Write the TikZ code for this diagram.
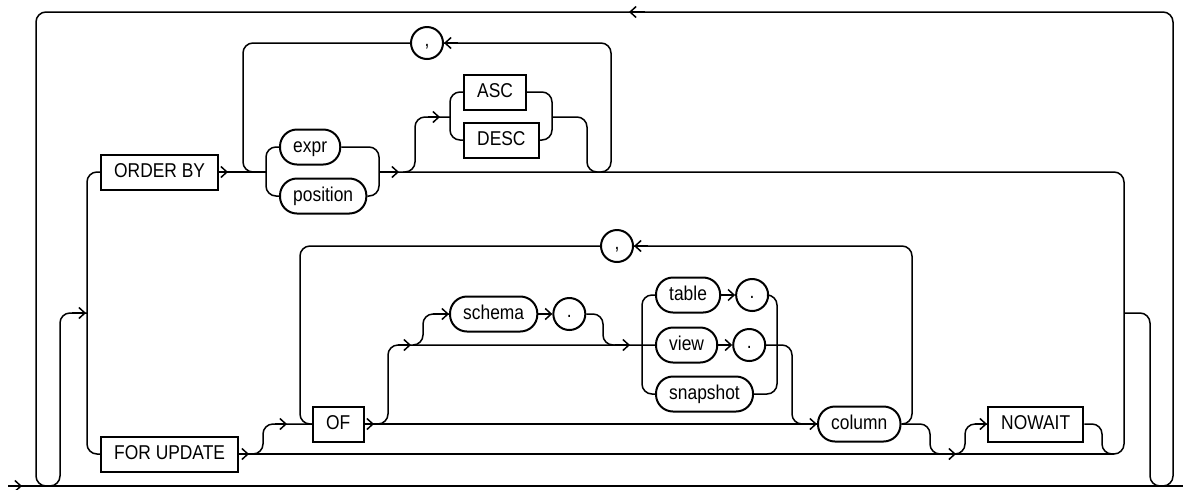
\documentclass[tikz,border=0pt]{standalone}
\usepackage{fontspec}
\usepackage{tikz}
\newfontfamily\railfont[FakeStretch=0.87]{Liberation Sans}
\usetikzlibrary{arrows.meta, positioning}
\tikzset{
	kw/.style    ={rectangle, draw=black, line width=1pt, minimum height=17.5pt, inner xsep=6.6pt, inner ysep=0pt, text height=7.5pt, text depth=2.5pt, font=\railfont\fontsize{10}{12}\selectfont},
	var/.style   ={kw, rounded corners=8.5pt},
	punct/.style ={circle, draw=black, line width=1pt, minimum size=16pt, inner sep=0pt, text height=5pt, text depth=2pt, font=\railfont\fontsize{10}{12}\selectfont},
	rail/.style  ={line width=0.75pt, rounded corners=5pt},
	railtip/.style={-{Straight Barb[length=3pt, width=5.5pt]}},
}
\begin{document}
\begin{tikzpicture}[x=0.5pt, y=-0.5pt]
	\useasboundingbox (0,0) rectangle (1183,489);
	\coordinate (in) at (8,486);
	\coordinate (out) at (1183,486);
	% keywords and variables
	\node[kw, anchor=west] (orderby) at (100,172) {ORDER BY};
	\node[kw, anchor=west] (forupdate) at (100,454) {FOR UPDATE};
	\node[var, anchor=west] (expr) at (279,147) {expr};
	\node[var, anchor=west] (position) at (279,196) {position};
	\node[kw, anchor=west] (asc) at (463,92) {ASC};
	\node[kw, anchor=west] (desc) at (463,140) {DESC};
	\node[punct] (comma1) at (427,43) {,};
	\node[kw, anchor=west] (of) at (312,424) {OF};
	\node[punct] (comma2) at (617,246) {,};
	\node[var, anchor=west] (schema) at (449,314) {schema};
	\node[punct, right=7pt of schema] (dot1) {.};
	\node[var, anchor=west] (table) at (655,295) {table};
	\node[punct, right=7pt of table] (dot2) {.};
	\node[var, anchor=west] (view) at (655,345) {view};
	\node[punct, right=7pt of view] (dot3) {.};
	\node[var, anchor=west] (snapshot) at (655,394) {snapshot};
	\node[var, anchor=west] (column) at (817,424) {column};
	\node[kw, anchor=west] (nowait) at (987,424) {NOWAIT};
	% main line and outer loop
	\draw[rail] (in) -- (out);
	\draw[rail, railtip] (in) -- ++(14,0);
	\draw[rail] (1124,313) -- (1150,313) -- (1150,486) -- (1173,486) -- (1173,12) -- (36,12) -- (36,486) -- (60,486) -- (60,313) -- (87,313);
	\draw[rail, railtip] (645,12) -- (629,12);
	\draw[rail, railtip] (72,313) -- (86,313);
	\draw[rail] (orderby.west) -- (87,172) -- (87,454) -- (forupdate.west);
	% ORDER BY
	\draw[rail] (orderby.east) -- (266,172);
	\draw[rail, railtip] (orderby.east) -- (228,172);
	\draw[rail] (expr.west) -- (266,147) -- (266,196) -- (position.west);
	\draw[rail] (expr.east) -- (379,147) -- (379,196) -- (position.east);
	\draw[rail] (379,172) -- (1124,172) -- (1124,454) -- (1102,454) -- (1102,424) -- (nowait.east);
	\draw[rail, railtip] (379,172) -- (399,172);
	\draw[rail] (403,172) -- (415,172) -- (415,117) -- (450,117);
	\draw[rail, railtip] (428,117) -- (440,117);
	\draw[rail] (asc.west) -- (450,92) -- (450,140) -- (desc.west);
	\draw[rail] (asc.east) -- (552,92) -- (552,140) -- (desc.east);
	\draw[rail] (552,117) -- (587,117) -- (587,172) -- (611,172) -- (611,43) -- (comma1.east);
	\draw[rail, railtip] (458,43) -- (comma1.east);
	\draw[rail] (comma1.west) -- (243,43) -- (243,172) -- (266,172);
	% FOR UPDATE
	\draw[rail] (forupdate.east) -- (1114,454);
	\draw[rail, railtip] (forupdate.east) -- (249,454);
	\draw[rail] (251,454) -- (263,454) -- (263,424) -- (of.west);
	\draw[rail, railtip] (275,424) -- (287,424);
	\draw[rail] (comma2.west) -- (300,246) -- (300,424) -- (of.west);
	\draw[rail] (of.east) -- (column.west);
	\draw[rail, railtip] (of.east) -- (374,424);
	\draw[rail] (376,424) -- (388,424) -- (388,345) -- (view.west);
	\draw[rail, railtip] (398,345) -- (411,345);
	\draw[rail, railtip] (615,345) -- (630,345);
	\draw[rail] (413,345) -- (423,345) -- (423,314) -- (schema.west);
	\draw[rail, railtip] (433,314) -- (schema.west);
	\draw[rail, railtip] (schema.east) -- (dot1.west);
	\draw[rail] (dot1.east) -- (603,314) -- (603,345) -- (615,345);
	\draw[rail] (table.west) -- (642,295) -- (642,394) -- (snapshot.west);
	\draw[rail, railtip] (table.east) -- (dot2.west);
	\draw[rail, railtip] (view.east) -- (dot3.west);
	\draw[rail] (dot2.east) -- (777,295) -- (777,394) -- (snapshot.east);
	\draw[rail] (dot3.east) -- (792,345) -- (792,424) -- (column.west);
	\draw[rail, railtip] (802,424) -- (column.west);
	\draw[rail] (column.east) -- (912,424) -- (912,246) -- (comma2.east);
	\draw[rail, railtip] (648,246) -- (comma2.east);
	\draw[rail] (column.east) -- (930,424) -- (930,454) -- (942,454);
	\draw[rail, railtip] (940,454) -- (956,454);
	\draw[rail] (956,454) -- (965,454) -- (965,424) -- (nowait.west);
	\draw[rail, railtip] (975,424) -- (nowait.west);
\end{tikzpicture}
\end{document}
